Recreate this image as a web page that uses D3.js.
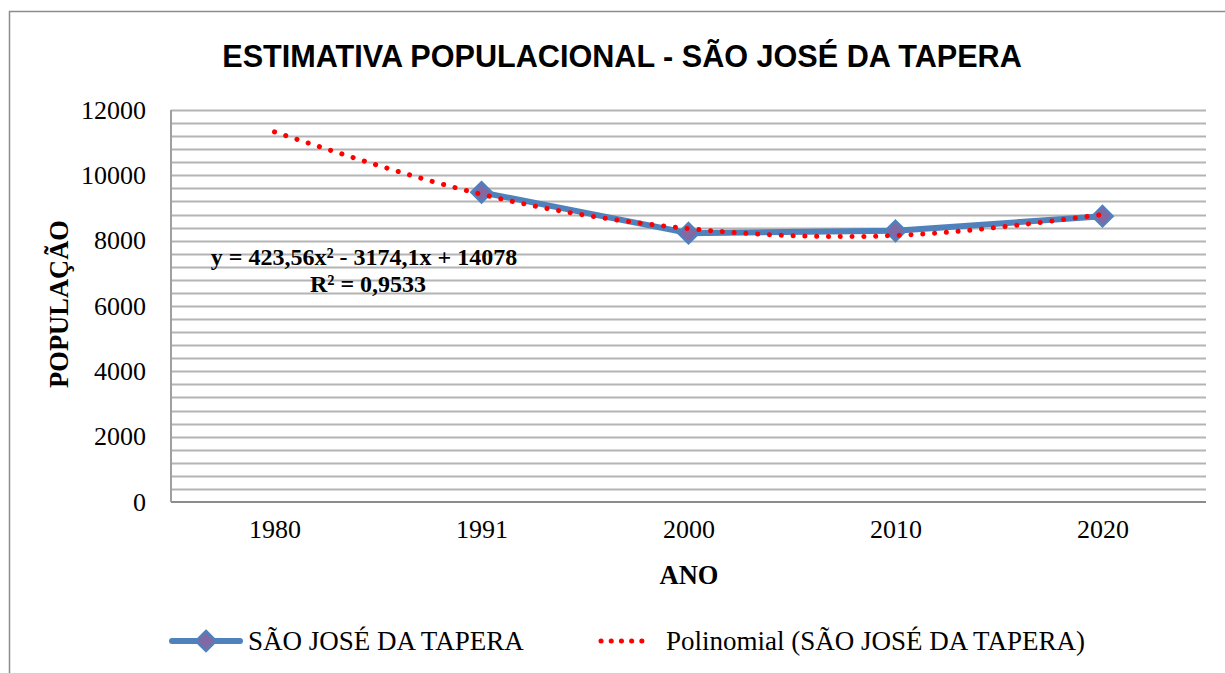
<!DOCTYPE html>
<html>
<head>
<meta charset="utf-8">
<script src="https://cdn.jsdelivr.net/npm/d3@7"></script>
<style>
  body { margin: 0; background: #fff; }
  svg { display: block; }
</style>
</head>
<body>
<div id="chart"></div>
<script>
// chart size
var svgWidth = 1225;
var svgHeight = 673;
var serif = "'Liberation Serif', 'Times New Roman', serif";

// ------------ DATA ------------
var years = ["1980", "1991", "2000", "2010", "2020"];
var population = [null, 9480, 8230, 8300, 8750];
// polynomial trendline, read at each category
var trendValues = [11330, 9420, 8370, 8160, 8800];
var yTicks = [0, 2000, 4000, 6000, 8000, 10000, 12000];
var seriesName = "SÃO JOSÉ DA TAPERA";
var trendName = "Polinomial (SÃO JOSÉ DA TAPERA)";
var equationText = "y = 423,56x² - 3174,1x + 14078";
var r2Text = "R² = 0,9533";

// plot area
var plot = { left: 171, top: 110, right: 1206, bottom: 502 };

var svg = d3.select("#chart")
  .append("svg")
  .attr("width", svgWidth)
  .attr("height", svgHeight);

// outer frame
svg.append("rect")
  .attr("x", 9.5)
  .attr("y", 11.5)
  .attr("width", 1240)
  .attr("height", 700)
  .attr("fill", "none")
  .attr("stroke", "#8c8c8c")
  .attr("stroke-width", 1.5);

// title
svg.append("text")
  .attr("x", 622)
  .attr("y", 67)
  .attr("text-anchor", "middle")
  .style("font-family", "'Liberation Sans', Arial, sans-serif")
  .style("font-weight", "bold")
  .style("font-size", "30.6px")
  .text("ESTIMATIVA POPULACIONAL - SÃO JOSÉ DA TAPERA");

// ------------ SCALES ------------
var x = d3.scalePoint()
  .domain(years)
  .range([plot.left, plot.right])
  .padding(0.5);

var y = d3.scaleLinear()
  .domain([0, 12000])
  .range([plot.bottom, plot.top]);

// gridlines every 400
var grid = d3.range(400, 12001, 400);
svg.append("g")
  .selectAll("line")
  .data(grid)
  .enter()
  .append("line")
    .attr("x1", plot.left)
    .attr("x2", plot.right)
    .attr("y1", d => Math.round(y(d)) + 0.5)
    .attr("y2", d => Math.round(y(d)) + 0.5)
    .attr("stroke", "#b4b4b4")
    .attr("stroke-width", 2);

// axes lines
svg.append("line")
  .attr("x1", plot.left).attr("x2", plot.left)
  .attr("y1", plot.top).attr("y2", plot.bottom)
  .attr("stroke", "#a0a0a0").attr("stroke-width", 2);
svg.append("line")
  .attr("x1", plot.left).attr("x2", plot.right)
  .attr("y1", plot.bottom).attr("y2", plot.bottom)
  .attr("stroke", "#8c8c8c").attr("stroke-width", 2);

// y tick labels
var leftAxis = d3.axisLeft(y).tickValues(yTicks).tickFormat(d3.format("d")).tickSize(0).tickPadding(25);
var gy = svg.append("g")
  .attr("transform", `translate(${plot.left}, 0)`)
  .call(leftAxis);
gy.select(".domain").remove();
gy.selectAll("text")
  .attr("fill", "#000")
  .style("font-family", serif)
  .style("font-size", "26px");

// x tick labels
var bottomAxis = d3.axisBottom(x).tickSize(0).tickPadding(18);
var gx = svg.append("g")
  .attr("transform", `translate(0, ${plot.bottom})`)
  .call(bottomAxis);
gx.select(".domain").remove();
gx.selectAll("text")
  .attr("fill", "#000")
  .style("font-family", serif)
  .style("font-size", "26px");

// ------------ SERIES ------------
var pts = years.map((yr, i) => ({ year: yr, value: population[i] })).filter(d => d.value != null);

svg.append("path")
  .datum(pts)
  .attr("fill", "none")
  .attr("stroke", "#4f81bd")
  .attr("stroke-width", 6)
  .attr("stroke-linejoin", "round")
  .attr("d", d3.line().x(d => x(d.year)).y(d => y(d.value)));

var diamond = d3.symbol().type(d3.symbolDiamond2).size(260);
svg.append("g")
  .selectAll("path")
  .data(pts)
  .enter()
  .append("path")
    .attr("transform", d => `translate(${x(d.year)}, ${y(d.value)})`)
    .attr("d", diamond)
    .attr("fill", "#7f6aa5")
    .attr("stroke", "#4f81bd")
    .attr("stroke-width", 2.5);

// trendline (dotted red)
var trend = years.map((yr, i) => ({ year: yr, value: trendValues[i] }));
svg.append("path")
  .datum(trend)
  .attr("fill", "none")
  .attr("stroke", "#ff0000")
  .attr("stroke-width", 5)
  .attr("stroke-linecap", "round")
  .attr("stroke-dasharray", "0.1 11.7")
  .attr("d", d3.line().curve(d3.curveNatural).x(d => x(d.year)).y(d => y(d.value)));

// equation
function boldSerif(sel, size) {
  return sel.style("font-family", serif).style("font-weight", "bold").style("font-size", size + "px").attr("fill", "#000");
}
boldSerif(svg.append("text"), 24)
  .attr("x", 364)
  .attr("y", 265)
  .attr("text-anchor", "middle")
  .text(equationText);
boldSerif(svg.append("text"), 24)
  .attr("x", 368)
  .attr("y", 292)
  .attr("text-anchor", "middle")
  .text(r2Text);

// ------------ AXIS TITLES ------------
boldSerif(svg.append("text"), 26.5)
  .attr("transform", "translate(68, 304) rotate(-90)")
  .attr("text-anchor", "middle")
  .text("POPULAÇÃO");

boldSerif(svg.append("text"), 26.5)
  .attr("x", 689)
  .attr("y", 584)
  .attr("text-anchor", "middle")
  .text("ANO");

// ------------ LEGEND ------------
var legendY = 641;
svg.append("line")
  .attr("x1", 172).attr("x2", 240)
  .attr("y1", legendY).attr("y2", legendY)
  .attr("stroke", "#4f81bd")
  .attr("stroke-width", 6)
  .attr("stroke-linecap", "round");
svg.append("path")
  .attr("transform", `translate(206, ${legendY})`)
  .attr("d", diamond)
  .attr("fill", "#7f6aa5")
  .attr("stroke", "#4f81bd")
  .attr("stroke-width", 2.5);
svg.append("text")
  .attr("x", 248)
  .attr("y", legendY + 9)
  .attr("fill", "#000")
  .style("font-family", serif)
  .style("font-size", "27px")
  .text(seriesName);

svg.append("line")
  .attr("x1", 601).attr("x2", 652)
  .attr("y1", legendY).attr("y2", legendY)
  .attr("stroke", "#ff0000")
  .attr("stroke-width", 5)
  .attr("stroke-linecap", "round")
  .attr("stroke-dasharray", "0.1 10.1");
svg.append("text")
  .attr("x", 666)
  .attr("y", legendY + 9)
  .attr("fill", "#000")
  .style("font-family", serif)
  .style("font-size", "27px")
  .text(trendName);
</script>
</body>
</html>
